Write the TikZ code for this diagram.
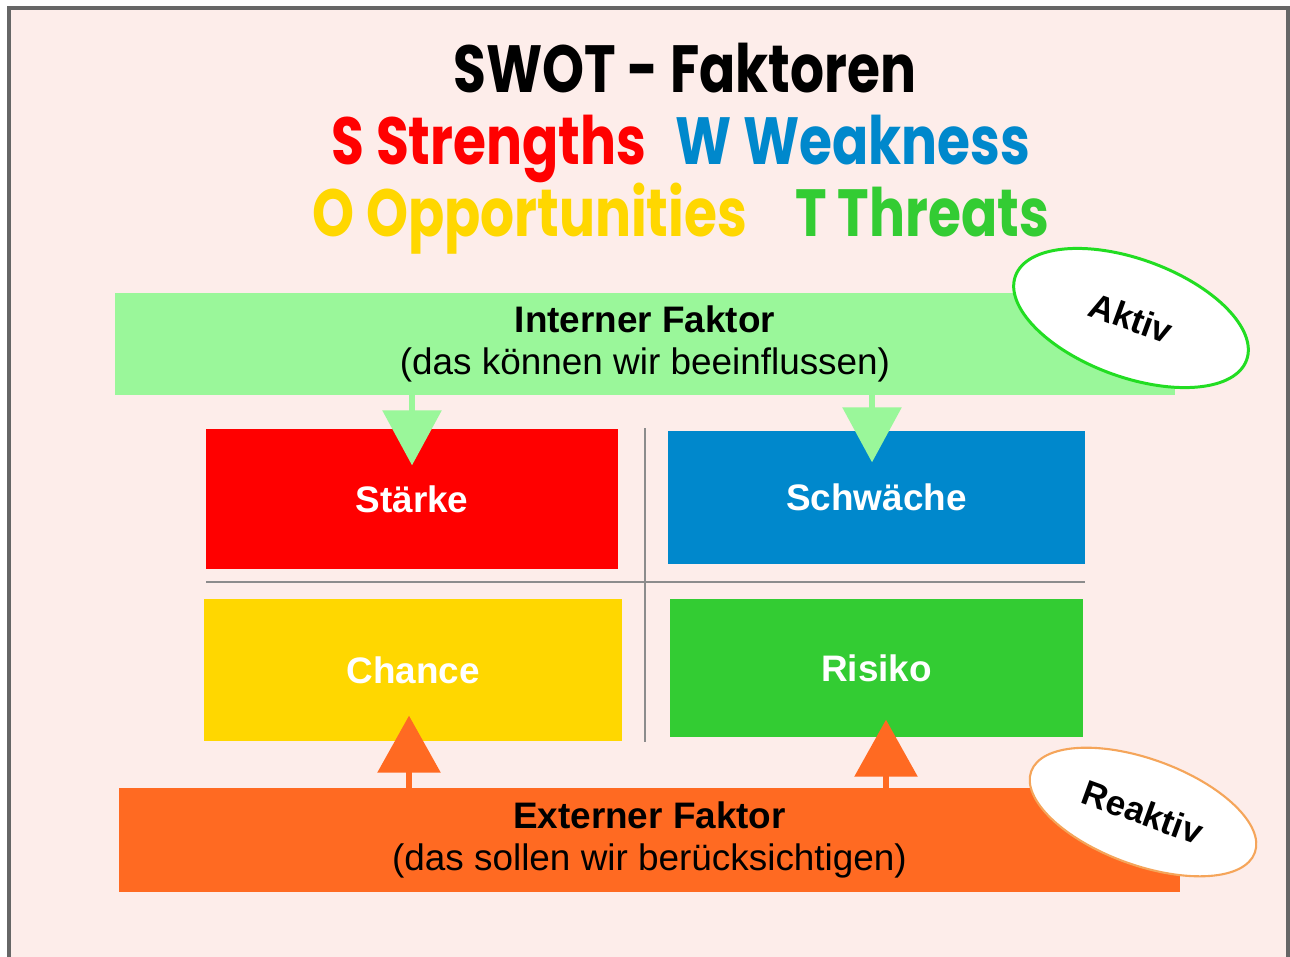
\documentclass[tikz,border=0pt]{standalone}
\usepackage{fontspec}
\setmainfont{Liberation Sans}
\newfontfamily\swotfont[FakeStretch=0.8]{Poppins}
\usetikzlibrary{arrows.meta,shapes.geometric}

\definecolor{bgpink}{HTML}{FDEDEA}
\definecolor{framegrey}{HTML}{666666}
\definecolor{swred}{HTML}{FF0000}
\definecolor{swblue}{HTML}{0088CC}
\definecolor{swyellow}{HTML}{FFD700}
\definecolor{swgreen}{HTML}{33CC33}
\definecolor{intgreen}{HTML}{9AF79A}
\definecolor{extorange}{HTML}{FF6A22}
\definecolor{aktivgreen}{HTML}{22DD22}
\definecolor{reaktivorange}{HTML}{F5A55A}
\definecolor{divgrey}{HTML}{8C8C8C}

\begin{document}
\begin{tikzpicture}[x=0.02cm,y=-0.02cm,
  quad/.style={rectangle, inner sep=0pt, text=white, font=\fontsize{21}{25}\selectfont\bfseries},
  bar/.style={rectangle, inner sep=0pt, align=center, font=\fontsize{21}{23.8}\selectfont},
  tag/.style={ellipse, draw, fill=white, inner sep=0pt, font=\fontsize{20}{24}\selectfont\bfseries},
  headline/.style={anchor=base, font=\swotfont\fontsize{38}{40}\selectfont\bfseries},
  downarrow/.style={intgreen, line width=0.12cm, -{Triangle[width=1.16cm,length=1.1cm]}},
  uparrow/.style={extorange, line width=0.12cm, -{Triangle[width=1.24cm,length=1.14cm]}},
  divider/.style={divgrey, line width=0.04cm}]
\clip (0,0) rectangle (1290,956);
\fill[white] (0,0) rectangle (1290,956);
\draw[framegrey, fill=bgpink, line width=0.08cm] (9,8) rectangle (1288,990);
% title
\node[headline] (title) at (685,93) {SWOT - Faktoren};
\node[headline, text=swred] (strengths) at (489,165) {S Strengths};
\node[headline, text=swblue] (weakness) at (853,165) {W Weakness};
\node[headline, text=swyellow] (opps) at (530,236) {O Opportunities};
\node[headline, text=swgreen] (threats) at (922,236) {T Threats};
% bars
\node[bar, fill=intgreen, minimum width=21.2cm, minimum height=2.04cm] (intbar) at (645,344) {\textbf{Interner Faktor}\\(das können wir beeinflussen)};
\node[bar, fill=extorange, minimum width=21.22cm, minimum height=2.08cm] (extbar) at (649.5,840) {\textbf{Externer Faktor}\\(das sollen wir berücksichtigen)};
% quadrants
\node[quad, fill=swred, minimum width=8.24cm, minimum height=2.8cm] (staerke) at (412,499) {Stärke};
\node[quad, fill=swblue, minimum width=8.34cm, minimum height=2.66cm] (schwaeche) at (876.5,497.5) {Schwäche};
\node[quad, fill=swyellow, minimum width=8.36cm, minimum height=2.84cm] (chance) at (413,670) {Chance};
\node[quad, fill=swgreen, minimum width=8.26cm, minimum height=2.76cm] (risiko) at (876.5,668) {Risiko};
\draw[divider] (645,428) -- (645,742);
\draw[divider] (206,582) -- (1085,582);
% arrows
\draw[downarrow] (intbar.south -| staerke) -- ++(0,70);
\draw[downarrow] ([xshift=-0.09cm]intbar.south -| schwaeche) -- ++(0,67);
\draw[uparrow] ([xshift=-0.08cm]extbar.north -| chance) -- ++(0,-72);
\draw[uparrow] ([xshift=0.19cm]extbar.north -| risiko) -- ++(0,-68);
% tags
\node[tag, draw=aktivgreen, line width=1.7pt, minimum width=4.92cm, minimum height=2.36cm, rotate=-20] (aktiv) at (1131,318) {Aktiv};
\node[tag, draw=reaktivorange, line width=1.2pt, minimum width=4.76cm, minimum height=2.12cm, rotate=-20] (reaktiv) at (1143,812) {Reaktiv};
\end{tikzpicture}
\end{document}
